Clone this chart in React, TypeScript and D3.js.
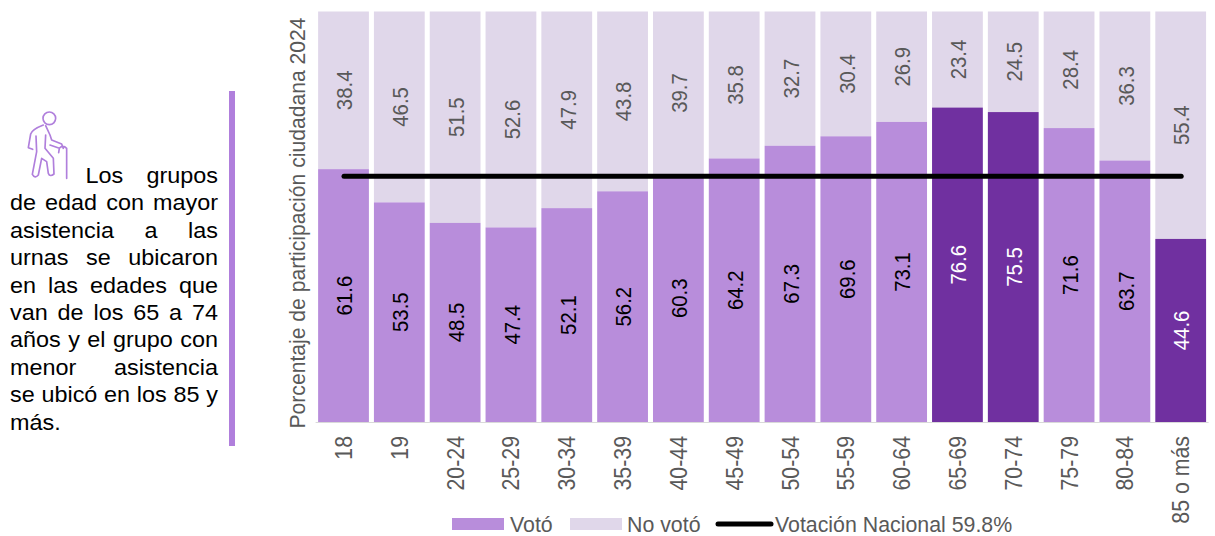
import React, { useMemo } from "react";
import * as d3 from "d3";

const categories = ["18","19","20-24","25-29","30-34","35-39","40-44","45-49","50-54","55-59","60-64","65-69","70-74","75-79","80-84","85 o más"];
const voted = [61.6,53.5,48.5,47.4,52.1,56.2,60.3,64.2,67.3,69.6,73.1,76.6,75.5,71.6,63.7,44.6];
const notVoted = [38.4,46.5,51.5,52.6,47.9,43.8,39.7,35.8,32.7,30.4,26.9,23.4,24.5,28.4,36.3,55.4];
const highlighted = ["65-69","70-74","85 o más"];
const nationalVote = 59.8;
const yAxisTitle = "Porcentaje de participación ciudadana 2024";
const legendLabels = ["Votó","No votó","Votación Nacional 59.8%"];
const noteLines = ["Los grupos","de edad con mayor","asistencia a las","urnas se ubicaron","en las edades que","van de los 65 a 74","años y el grupo con","menor asistencia","se ubicó en los 85 y","más."];

const FONT = '"Liberation Sans", Arial, sans-serif';
const C_VOTED = "#B88DDB", C_NOT = "#E0D7EA", C_HI = "#7030A0", C_TXT = "#595959", C_ACCENT = "#B07FDC";

export default function App() {
  const x = d3.scaleBand<string>().domain(categories).range([315.6, 1208.6]).paddingInner(0.09).paddingOuter(0.045);
  const y = d3.scaleLinear().domain([0, 100]).range([422, 11.5]);
  const noteFont = 23.4;
  const labelFont = 20.4;
  const axisFont = 21.33;
  const noteSpacing = useMemo(() => {
    const ctx = document.createElement("canvas").getContext("2d")!;
    ctx.font = `${noteFont}px "Liberation Sans"`;
    return noteLines.map((l, i) => {
      const left = i === 0 ? 85.5 : 10;
      const gaps = l.split(" ").length - 1;
      if (i === noteLines.length - 1 || gaps === 0) return 0;
      return (218 - left - ctx.measureText(l).width) / gaps;
    });
  }, []);
  const lineY = y(nationalVote);
  const bw = x.bandwidth();
  return (
    <svg width={1215} height={536} style={{ position: "absolute", left: 0, top: 0 }} fontFamily={FONT}>
      <rect width={1215} height={536} fill="#fff" />
      {/* note icon */}
      <g transform="translate(0,80) scale(0.3333)" fill="none" stroke={C_ACCENT} strokeWidth={5} strokeLinecap="round" strokeLinejoin="round">
        <circle cx={148} cy={115} r={19} />
        <path d="M130 135 C112 142 96 150 92 162 L85 203 L98 208 M108 168 L110 215 L97 283 Q105 297 115 285 L125 235 L140 245 L145 280 Q150 292 162 282 L160 235 L135 205 L137 165 M137 137 L150 165 L155 180 L185 192 L190 205 M150 195 L178 205 L176 218 M180 203 Q190 195 200 205 L200 295" />
      </g>
      {noteLines.map((l, i) => (
        <text key={l} transform={`translate(${i === 0 ? 85.5 : 10},${182.7 + i * 27.45}) scale(1,0.96)`} fontSize={noteFont} fill="#000" wordSpacing={noteSpacing[i]} xmlSpace="preserve">{l}</text>
      ))}
      <rect x={229} y={91} width={6} height={355} fill={C_ACCENT} />

      {/* y-axis title */}
      <text transform="translate(304.5,223) scale(1.06,1) rotate(-90)" textAnchor="middle" fontSize={axisFont - 0.2} fill={C_TXT}>{yAxisTitle}</text>

      {/* bars */}
      {categories.map((c, i) => (
        <g key={c}>
          <rect x={x(c)} y={y(100)} width={bw} height={y(voted[i]) - y(100)} fill={C_NOT} />
          <rect x={x(c)} y={y(voted[i])} width={bw} height={y(0) - y(voted[i])} fill={highlighted.includes(c) ? C_HI : C_VOTED} />
        </g>
      ))}
      <line x1={315.6} x2={1208.6} y1={422.5} y2={422.5} stroke="#D9D9D9" strokeWidth={1.2} />

      {/* national line */}
      <line x1={x(categories[0])! + bw / 2 + 0.5} x2={x(categories[15])! + bw / 2 + 0.5} y1={lineY - 0.3} y2={lineY - 0.3} stroke="#000" strokeWidth={5} strokeLinecap="round" />

      {/* value labels */}
      {categories.map((c, i) => {
        const cx = x(c)! + bw / 2;
        const cyV = (y(voted[i]) + y(0)) / 2;
        const cyN = (y(100) + y(voted[i])) / 2;
        return (
          <g key={c} fontSize={labelFont} textAnchor="middle">
            <text transform={`translate(${cx + 8.8},${cyV}) scale(1.12,1) rotate(-90)`} fill={highlighted.includes(c) ? "#fff" : "#000"}>{voted[i].toFixed(1)}</text>
            <text transform={`translate(${cx + 8.8},${cyN}) scale(1.12,1) rotate(-90)`} fill={C_TXT}>{notVoted[i].toFixed(1)}</text>
          </g>
        );
      })}

      {/* category labels */}
      {categories.map((c) => (
        <text key={c} transform={`translate(${x(c)! + bw / 2 + 8.5},436) scale(1.08,1) rotate(-90)`} textAnchor="end" fontSize={axisFont} fill={C_TXT}>{c}</text>
      ))}

      {/* legend */}
      <rect x={452} y={518} width={52} height={12} fill={C_VOTED} />
      <text x={510} y={532} fontSize={axisFont} fill={C_TXT}>{legendLabels[0]}</text>
      <rect x={570} y={518} width={52} height={12} fill={C_NOT} />
      <text x={627} y={532} fontSize={axisFont} fill={C_TXT}>{legendLabels[1]}</text>
      <line x1={718} x2={771} y1={524} y2={524} stroke="#000" strokeWidth={5} strokeLinecap="round" />
      <text x={775} y={532} fontSize={axisFont} fill={C_TXT}>{legendLabels[2]}</text>
    </svg>
  );
}
